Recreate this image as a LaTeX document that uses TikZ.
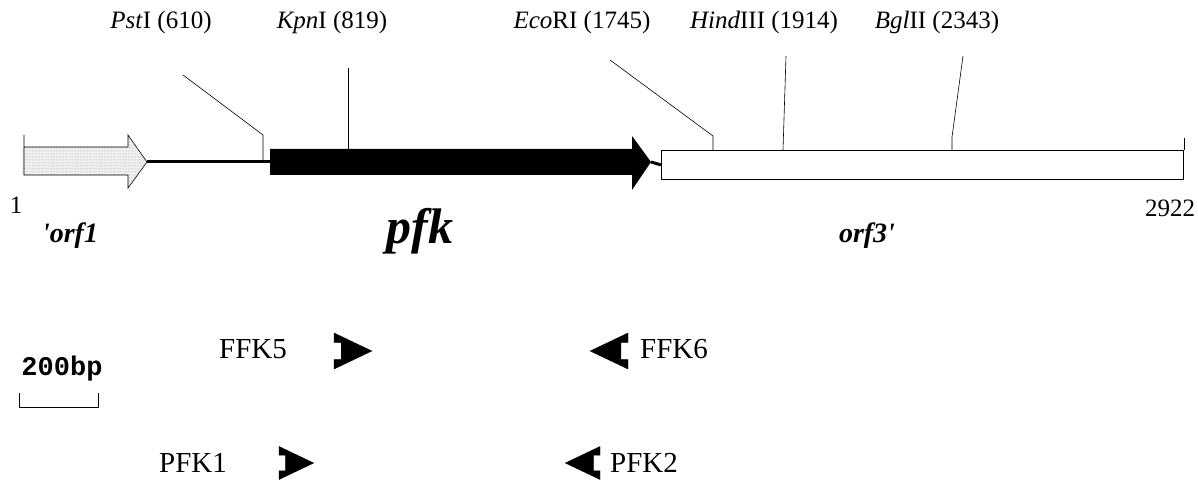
\documentclass[tikz,border=0pt]{standalone}
\usepackage{fontspec}
\setmainfont{Liberation Serif}
\setmonofont{Liberation Mono}
\usetikzlibrary{patterns}

\tikzset{
  sitelabel/.style={inner sep=0pt, font=\fontsize{25}{27}\selectfont},
  siteline/.style={draw, line width=0.6pt},
  genename/.style={inner sep=0pt, font=\fontsize{28}{30}\selectfont\bfseries\itshape},
  endlabel/.style={inner sep=0pt, font=\fontsize{25}{27}\selectfont},
  primername/.style={inner sep=0pt, font=\fontsize{29}{31}\selectfont},
  spacer/.style={line width=3pt},
  primershape/.style={fill=black, draw=black, line width=0.4pt},
  pics/fwdprimer/.style={code={
    \path[primershape] (0,-#1) -- (2.1*#1,0) -- (0,#1) -- (0,0.48*#1)
      -- (0.4*#1,0.48*#1) -- (0.4*#1,-0.48*#1) -- (0,-0.48*#1) -- cycle;}},
  pics/revprimer/.style={code={
    \path[primershape] (0,-#1) -- (-2.1*#1,0) -- (0,#1) -- (0,0.48*#1)
      -- (-0.4*#1,0.48*#1) -- (-0.4*#1,-0.48*#1) -- (0,-0.48*#1) -- cycle;}}
}

\begin{document}
\begin{tikzpicture}[x=1pt, y=-1pt]
\useasboundingbox (0,0) rectangle (1198,481);

% ---- restriction site labels ----
\node[sitelabel] (pst) at (161,22) {\textit{Pst}I (610)};
\node[sitelabel] (kpn) at (332,22) {\textit{Kpn}I (819)};
\node[sitelabel] (eco) at (582,22) {\textit{Eco}RI (1745)};
\node[sitelabel] (hind) at (764,22) {\textit{Hind}III (1914)};
\node[sitelabel] (bgl) at (937,22) {\textit{Bgl}II (2343)};

% ---- orf1 fragment (stippled arrow) ----
\coordinate (orfonetip) at (147,162);
\fill[gray!12] (22,147) -- (128,147) -- (128,135) -- (orfonetip) -- (128,188)
  -- (128,175) -- (22,175) -- cycle;
\fill[pattern=dots, pattern color=gray!80] (22,147) -- (128,147) -- (128,135)
  -- (orfonetip) -- (128,188) -- (128,175) -- (22,175) -- cycle;
\draw[line width=0.6pt] (24,135) -- (24,175) -- (128,175) -- (128,188)
  -- (orfonetip) -- (128,135) -- (128,147) -- (24,147);

% ---- pfk gene (solid arrow) ----
\coordinate (pfkstart) at (270,162);
\coordinate (pfktip) at (651,162);
\fill (270,149) -- (632,149) -- (632,136) -- (pfktip) -- (632,190)
  -- (632,175) -- (270,175) -- cycle;

% ---- orf3 fragment (open box) ----
\node[draw, line width=0.8pt, minimum width=522pt, minimum height=29pt,
  inner sep=0pt, anchor=north west] (orfthree) at (661,150) {};
\draw[line width=0.6pt] (orfthree.north east) -- ++(0,-12);

% ---- intergenic spacers ----
\draw[spacer] (orfonetip) -- (pfkstart);
\draw[spacer] (pfktip) -- (orfthree.west);

% ---- site markers ----
\coordinate (pstfree) at (183,75);
\coordinate (kpnfree) at (348,68);
\coordinate (ecofree) at (610,60);
\coordinate (hindfree) at (786,56);
\coordinate (bglfree) at (963,56);
\draw[siteline] (pstfree) -- (263,135) -- (263,162);
\draw[siteline] (kpnfree) -- (348,149);
\draw[siteline] (ecofree) -- (713,136) -- (713,150);
\draw[siteline] (hindfree) -- (783,150);
\draw[siteline] (bglfree) -- (952,137) -- (952,150);

% ---- coordinates and gene names ----
\node[endlabel] (startpos) at (16,205) {1};
\node[endlabel] (endpos) at (1170,208) {2922};
\node[genename, anchor=base] (orfonename) at (70,242) {\textquotesingle orf1};
\node[genename, anchor=base, font=\fontsize{50}{52}\selectfont\bfseries\itshape]
  (pfkname) at (420,243) {pfk};
\node[genename, anchor=base] (orfthreename) at (867,242) {orf3\textquotesingle};

% ---- scale bar ----
\node[inner sep=0pt, font=\fontsize{27}{29}\selectfont\ttfamily\bfseries, anchor=base]
  (scaletext) at (62,375) {200bp};
\draw[line width=0.6pt] (19,393) -- (19,407) -- (98,407) -- (98,393);

% ---- primers ----
\node[primername] (ffkfive) at (253,349) {FFK5};
\pic at (334,351) {fwdprimer=18};
\pic at (628,351) {revprimer=18};
\node[primername] (ffksix) at (674,349) {FFK6};

\node[primername] (pfkone) at (193,463) {PFK1};
\pic at (279,463) {fwdprimer=16.5};
\pic at (600,463) {revprimer=16.5};
\node[primername] (pfktwo) at (644,463) {PFK2};
\end{tikzpicture}
\end{document}
